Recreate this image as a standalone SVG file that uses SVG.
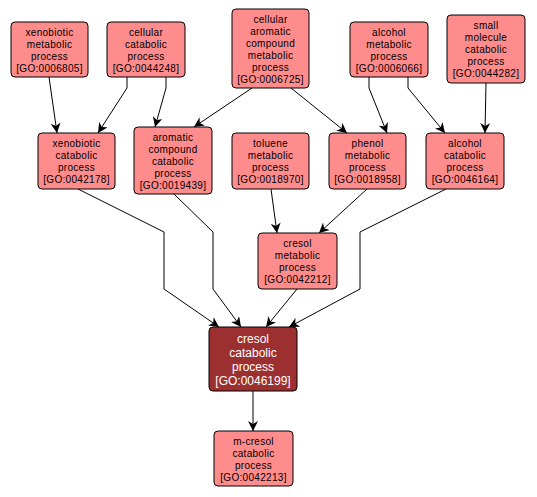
<svg xmlns="http://www.w3.org/2000/svg" width="537" height="497" viewBox="0 0 537 497">
<defs>
<marker id="ah" viewBox="0 0 10 10" refX="10" refY="5" markerWidth="10" markerHeight="10" markerUnits="userSpaceOnUse" orient="auto">
<path d="M0,0 L10,5 L0,10 L3,5 z" fill="#000"/>
</marker>
<style>
.n rect{fill:#ff8c8c;stroke:#000;stroke-width:1}
.n text{font-family:"Liberation Sans",Arial,sans-serif;font-size:10px;letter-spacing:0.3px;text-anchor:middle;fill:#000}
.d rect{fill:#9c3030;stroke:#000;stroke-width:1}
.d text{font-family:"Liberation Sans",Arial,sans-serif;font-size:12px;text-anchor:middle;fill:#fff}
.e polyline{fill:none;stroke:#000;stroke-width:1;marker-end:url(#ah)}
</style>
</defs>
<rect width="537" height="497" fill="#fff"/>
<g id="edges" class="e">
<polyline points="49,77 57,133"/>
<polyline points="127,77 127,88 98,133"/>
<polyline points="166,77 166,88 155,127"/>
<polyline points="252,88 194,127"/>
<polyline points="291,88 347,133"/>
<polyline points="369,77 369,88 387,133"/>
<polyline points="408,77 408,88 445,133"/>
<polyline points="486,83 485,133"/>
<polyline points="271,189 277,233"/>
<polyline points="367,189 319,233"/>
<polyline points="297,289 266,327"/>
<polyline points="78,189 164,232 164,289 219,327"/>
<polyline points="174,194 213,232 213,289 241,327"/>
<polyline points="446,189 360,232 360,289 289,327"/>
<polyline points="253,391 253,431"/>
</g>
<g id="n1" class="n"><rect x="11" y="22" width="77" height="55" rx="4"/><text x="49.5" y="35.5">xenobiotic</text><text x="49.5" y="47.5">metabolic</text><text x="49.5" y="59.5">process</text><text x="49.5" y="71.5">[GO:0006805]</text></g>
<g id="n2" class="n"><rect x="107" y="22" width="78" height="55" rx="4"/><text x="146" y="35.5">cellular</text><text x="146" y="47.5">catabolic</text><text x="146" y="59.5">process</text><text x="146" y="71.5">[GO:0044248]</text></g>
<g id="n3" class="n"><rect x="232" y="9" width="77" height="79" rx="4"/><text x="270.5" y="22.5">cellular</text><text x="270.5" y="34.5">aromatic</text><text x="270.5" y="46.5">compound</text><text x="270.5" y="58.5">metabolic</text><text x="270.5" y="70.5">process</text><text x="270.5" y="82.5">[GO:0006725]</text></g>
<g id="n4" class="n"><rect x="350" y="22" width="78" height="55" rx="4"/><text x="389" y="35.5">alcohol</text><text x="389" y="47.5">metabolic</text><text x="389" y="59.5">process</text><text x="389" y="71.5">[GO:0006066]</text></g>
<g id="n5" class="n"><rect x="447" y="15" width="78" height="68" rx="4"/><text x="486" y="29">small</text><text x="486" y="41">molecule</text><text x="486" y="53">catabolic</text><text x="486" y="65">process</text><text x="486" y="77">[GO:0044282]</text></g>
<g id="n6" class="n"><rect x="38" y="133" width="77" height="56" rx="4"/><text x="76.5" y="147">xenobiotic</text><text x="76.5" y="159">catabolic</text><text x="76.5" y="171">process</text><text x="76.5" y="183">[GO:0042178]</text></g>
<g id="n7" class="n"><rect x="134" y="127" width="78" height="67" rx="4"/><text x="173" y="140.5">aromatic</text><text x="173" y="152.5">compound</text><text x="173" y="164.5">catabolic</text><text x="173" y="176.5">process</text><text x="173" y="188.5">[GO:0019439]</text></g>
<g id="n8" class="n"><rect x="232" y="133" width="77" height="56" rx="4"/><text x="270.5" y="147">toluene</text><text x="270.5" y="159">metabolic</text><text x="270.5" y="171">process</text><text x="270.5" y="183">[GO:0018970]</text></g>
<g id="n9" class="n"><rect x="329" y="133" width="77" height="56" rx="4"/><text x="367.5" y="147">phenol</text><text x="367.5" y="159">metabolic</text><text x="367.5" y="171">process</text><text x="367.5" y="183">[GO:0018958]</text></g>
<g id="n10" class="n"><rect x="426" y="133" width="78" height="56" rx="4"/><text x="465" y="147">alcohol</text><text x="465" y="159">catabolic</text><text x="465" y="171">process</text><text x="465" y="183">[GO:0046164]</text></g>
<g id="n11" class="n"><rect x="258" y="233" width="79" height="56" rx="4"/><text x="297.5" y="247">cresol</text><text x="297.5" y="259">metabolic</text><text x="297.5" y="271">process</text><text x="297.5" y="283">[GO:0042212]</text></g>
<g id="n12" class="d"><rect x="209" y="327" width="88" height="64" rx="4"/><text x="253" y="343">cresol</text><text x="253" y="357">catabolic</text><text x="253" y="371">process</text><text x="253" y="385">[GO:0046199]</text></g>
<g id="n13" class="n"><rect x="214" y="431" width="79" height="55" rx="4"/><text x="253.5" y="444.5">m-cresol</text><text x="253.5" y="456.5">catabolic</text><text x="253.5" y="468.5">process</text><text x="253.5" y="480.5">[GO:0042213]</text></g>
</svg>
